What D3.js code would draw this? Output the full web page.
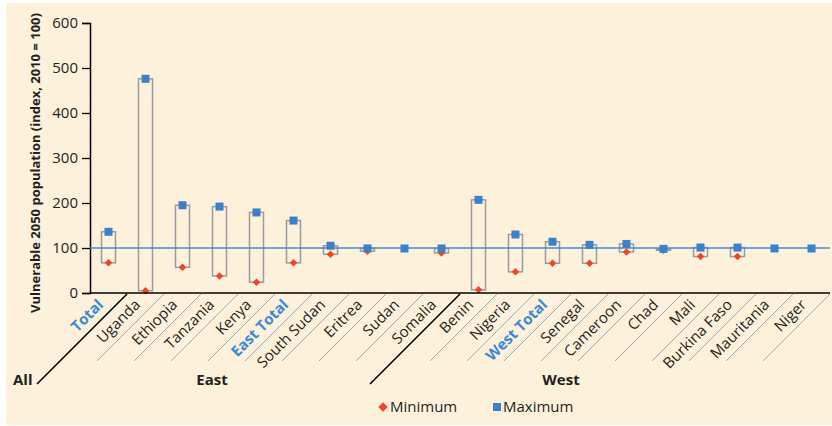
<!DOCTYPE html>
<html><head><meta charset="utf-8">
<script src="https://cdn.jsdelivr.net/npm/d3@7"></script>
<style>
html,body{margin:0;padding:0;background:#fff;}
svg{display:block;font-family:"Open Sans",sans-serif;}
</style></head>
<body><svg id="c" width="832" height="426"></svg>
<script>
const categories = ["Total","Uganda","Ethiopia","Tanzania","Kenya","East Total","South Sudan","Eritrea","Sudan","Somalia","Benin","Nigeria","West Total","Senegal","Cameroon","Chad","Mali","Burkina Faso","Mauritania","Niger"];
const minimum = [67,5,57,38,24,67,86,93,99,89,7,47,66,66,91,95,81,81,99,99];
const maximum = [136,476,195,192,179,161,105,99,99,99,207,130,114,107,109,98,101,101,99,99];
const highlighted = ["Total","East Total","West Total"];
const groups = [{name:"All",first:0,last:0},{name:"East",first:1,last:9},{name:"West",first:10,last:19}];
const yTicks = [0,100,200,300,400,500,600];
const referenceValue = 100;

const svg = d3.select("#c");
svg.append("rect").attr("x",6).attr("y",3).attr("width",826).attr("height",422).attr("fill","#fdf1dc");

const x0 = 90, x1 = 830, yTop = 23, yBot = 293;
const x = d3.scaleBand().domain(categories).range([x0,x1]).padding(0);
const y = d3.scaleLinear().domain([0,600]).range([yBot,yTop]);
const dark = "#231f20";

// y axis
const yAxis = svg.append("g").attr("transform",`translate(${x0},0)`)
  .call(d3.axisLeft(y).tickValues(yTicks).tickSize(8).tickPadding(4));
yAxis.select(".domain").attr("stroke","#000").attr("stroke-width",1.5);
yAxis.selectAll(".tick line").attr("stroke","#000").attr("stroke-width",1.3);
yAxis.selectAll(".tick text").attr("font-size",15).attr("fill",dark).attr("font-family","Open Sans");

// y title
svg.append("text").attr("transform",`translate(40,163) rotate(-90)`)
  .attr("text-anchor","middle").attr("font-size",13).attr("font-weight","bold").attr("fill",dark)
  .text("Vulnerable 2050 population (index, 2010 = 100)");

// boxes
const bw = 14;
svg.append("g").selectAll("rect").data(categories).join("rect")
  .attr("x",d=>x(d)+x.bandwidth()/2-bw/2)
  .attr("y",(d,i)=>y(maximum[i]))
  .attr("width",bw)
  .attr("height",(d,i)=>y(minimum[i])-y(maximum[i]))
  .attr("fill","none").attr("stroke","#9b9b9b").attr("stroke-width",1.5);

// reference line
svg.append("line").attr("x1",x0).attr("x2",x1).attr("y1",y(referenceValue)).attr("y2",y(referenceValue))
  .attr("stroke","#3d8fd8").attr("stroke-width",1.5);

// minimum diamonds
const dSym = d3.symbol().type(d3.symbolDiamond2).size(36);
svg.append("g").selectAll("path").data(categories).join("path")
  .attr("d",dSym)
  .attr("transform",(d,i)=>`translate(${x(d)+x.bandwidth()/2},${y(minimum[i])})`)
  .attr("fill","#ef4527");

// maximum squares
const sq = 8;
svg.append("g").selectAll("rect").data(categories).join("rect")
  .attr("x",d=>x(d)+x.bandwidth()/2-sq/2)
  .attr("y",(d,i)=>y(maximum[i])-sq/2)
  .attr("width",sq).attr("height",sq)
  .attr("fill","#3b80c8");

// x axis line
svg.append("line").attr("x1",x0).attr("x2",x1).attr("y1",yBot).attr("y2",yBot)
  .attr("stroke","#000").attr("stroke-width",1.5);

// separators
const groupStarts = groups.slice(1).map(g=>g.first);
categories.forEach((c,i)=>{
  if(i===0) return;
  const bx = x(c);
  const isGroup = groupStarts.includes(i);
  const len = isGroup ? 90 : 67;
  svg.append("line").attr("x1",bx).attr("y1",yBot+1).attr("x2",bx-len).attr("y2",yBot+1+len)
    .attr("stroke",isGroup?"#000":"#a3a6aa").attr("stroke-width",isGroup?1.6:1);
});
// right end separator
svg.append("line").attr("x1",x1).attr("y1",yBot+1).attr("x2",x1-67).attr("y2",yBot+68)
  .attr("stroke","#a3a6aa").attr("stroke-width",1);

// category labels
svg.append("g").selectAll("text").data(categories).join("text")
  .attr("transform",d=>`translate(${x(d)+x.bandwidth()/2-8},${yBot+9}) rotate(-45)`)
  .attr("text-anchor","end").attr("dy","0.35em")
  .attr("font-size",15)
  .attr("font-weight",d=>highlighted.includes(d)?"bold":"normal")
  .attr("fill",d=>highlighted.includes(d)?"#3a8ad6":dark)
  .text(d=>d);

// group labels
svg.append("text").attr("x",13).attr("y",385).attr("font-size",15).attr("font-weight","bold").attr("fill",dark).text(groups[0].name);
groups.slice(1).forEach((g,k)=>{
  const cx = k===0 ? 212 : 561;
  svg.append("text").attr("x",cx).attr("y",385).attr("text-anchor","middle")
    .attr("font-size",15).attr("font-weight","bold").attr("fill",dark).text(g.name);
});

// legend
const lg = svg.append("g");
lg.append("path").attr("d",d3.symbol().type(d3.symbolDiamond2).size(55)).attr("transform","translate(383,407)").attr("fill","#ef4527");
lg.append("text").attr("x",390).attr("y",412).attr("font-size",15).attr("fill",dark).text("Minimum");
lg.append("rect").attr("x",493).attr("y",403).attr("width",8).attr("height",8).attr("fill","#3b80c8");
lg.append("text").attr("x",503).attr("y",412).attr("font-size",15).attr("fill",dark).text("Maximum");
</script></body></html>
